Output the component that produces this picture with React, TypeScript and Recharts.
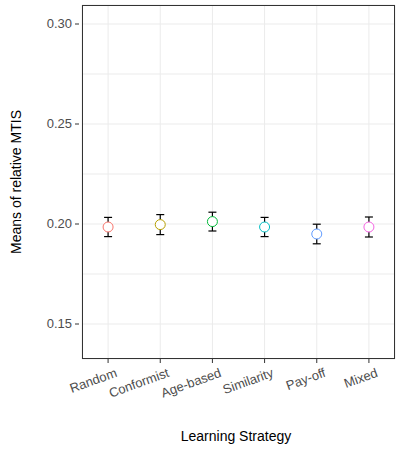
import React from "react";
import { ScatterChart, Scatter, XAxis, YAxis, CartesianGrid, ErrorBar, Cell } from "recharts";

const strategies = ["Random", "Conformist", "Age-based", "Similarity", "Pay-off", "Mixed"];
const means = [0.1985, 0.1997, 0.2012, 0.1985, 0.195, 0.1985];
const errors = [0.0048, 0.005, 0.0047, 0.0048, 0.0049, 0.005];
const colors = ["#F8766D", "#B79F00", "#00BA38", "#00BFC4", "#619CFF", "#F564E3"];
const yTicks = [0.15, 0.175, 0.2, 0.225, 0.25, 0.275, 0.3];
const majorTicks = [0.15, 0.2, 0.25, 0.3];

const data = strategies.map((s, i) => ({ name: s, value: means[i], err: errors[i] }));

const font = "Liberation Sans, Arial, sans-serif";

const YTick = (props: any) => {
  const { x, y, payload } = props;
  if (!majorTicks.some((t) => Math.abs(t - payload.value) < 1e-9)) return null;
  return (
    <g>
      <line x1={x + 1} x2={x + 5} y1={y} y2={y} stroke="#333" />
      <text x={x - 2} y={y} dy={4} textAnchor="end" fontSize={13} fill="#4d4d4d" fontFamily={font}>
        {payload.value.toFixed(2)}
      </text>
    </g>
  );
};

const XTick = (props: any) => {
  const { x, y, payload } = props;
  return (
    <g transform={`translate(${x},${y})`}>
      <line x1={0} x2={0} y1={-8} y2={-4} stroke="#333" />
      <text x={0} y={0} dy={12} dx={6} textAnchor="end" fontSize={13} fill="#4d4d4d" fontFamily={font} transform="rotate(-20)">
        {payload.value}
      </text>
    </g>
  );
};

export default function App() {
  return (
    <div style={{ position: "fixed", left: 0, top: 0, width: 403, height: 451, background: "#fff", fontFamily: font }}>
      <ScatterChart width={403} height={451} margin={{ top: 5, right: 8, left: 0, bottom: 0 }}>
        <CartesianGrid stroke="#ebebeb" />
        <XAxis
          dataKey="name"
          type="category"
          allowDuplicatedCategory={false}
          axisLine={false}
          tickLine={false}
          tick={<XTick />}
          height={92}
          interval={0}
        />
        <YAxis
          dataKey="value"
          type="number"
          domain={[0.1325, 0.3095]}
          ticks={yTicks}
          width={82}
          axisLine={false}
          tickLine={false}
          tick={<YTick />}
        />
        <Scatter data={data} isAnimationActive={false} shape={(p: any) => (
          <circle cx={p.cx} cy={p.cy} r={5} fill="#fff" stroke={p.fill} strokeWidth={1} />
        )}>
          {data.map((d, i) => <Cell key={d.name} fill={colors[i]} />)}
          <ErrorBar dataKey="err" direction="y" width={4} stroke="#000" strokeWidth={1.2} />
        </Scatter>
      </ScatterChart>
      <div style={{ position: "absolute", left: 82, top: 5, width: 313, height: 354, border: "1px solid #333", boxSizing: "border-box", pointerEvents: "none" }} />
      <div style={{ position: "absolute", left: 236, top: 428, transform: "translateX(-50%)", fontSize: 14, whiteSpace: "nowrap" }}>
        Learning Strategy
      </div>
      <div style={{ position: "absolute", left: 16, top: 182, transform: "translate(-50%, -50%) rotate(-90deg)", fontSize: 14, whiteSpace: "nowrap" }}>
        Means of relative MTIS
      </div>
    </div>
  );
}
